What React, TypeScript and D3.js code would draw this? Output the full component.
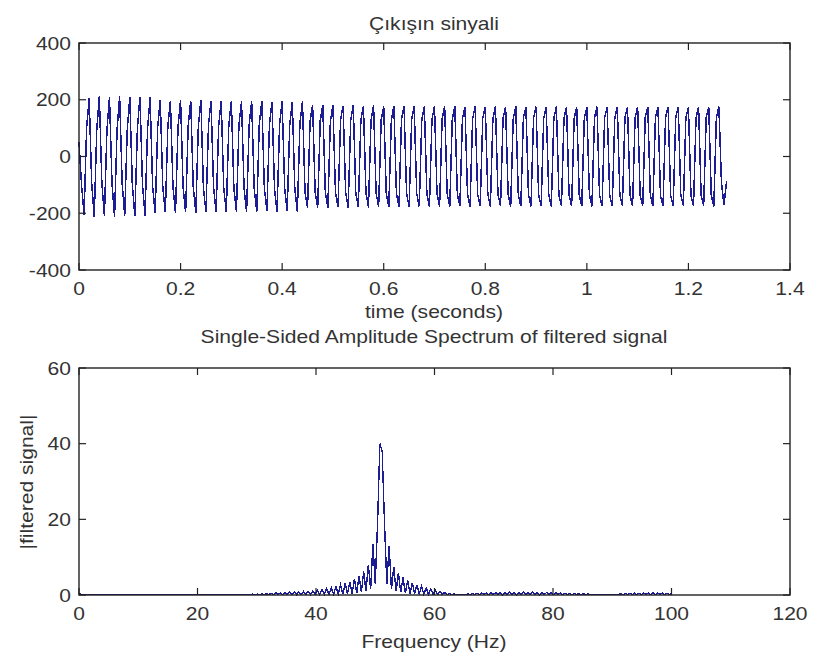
import React from "react";
import * as d3 from "d3";

// ---- data ----
const SAMPLE_RATE = 200; // Hz
const timeSignal: number[] = [
  50,
  -100, -205, 100, 205,
  -95, -212, 95, 212,
  -92, -210, 92, 210,
  -96, -213, 96, 213,
  -94, -209, 94, 209,
  -98, -211, 98, 211,
  -97, -208, 97, 208,
  -105, -200, 105, 200,
  -108, -197, 108, 197,
  -106, -199, 106, 199,
  -110, -196, 110, 196,
  -108, -198, 108, 198,
  -112, -195, 112, 195,
  -109, -197, 109, 197,
  -111, -196, 111, 196,
  -113, -194, 113, 194,
  -110, -197, 110, 197,
  -114, -195, 114, 195,
  -112, -193, 112, 193,
  -115, -195, 115, 195,
  -113, -192, 113, 192,
  -116, -194, 116, 194,
  -124, -182, 124, 182,
  -126, -180, 126, 180,
  -125, -181, 125, 181,
  -127, -179, 127, 179,
  -126, -180, 126, 180,
  -128, -178, 128, 178,
  -127, -180, 127, 180,
  -129, -177, 129, 177,
  -128, -179, 128, 179,
  -130, -177, 130, 177,
  -129, -178, 129, 178,
  -131, -176, 131, 176,
  -130, -178, 130, 178,
  -132, -176, 132, 176,
  -131, -177, 131, 177,
  -133, -175, 133, 175,
  -132, -177, 132, 177,
  -134, -175, 134, 175,
  -133, -176, 133, 176,
  -134, -175, 134, 175,
  -133, -177, 133, 177,
  -135, -175, 135, 175,
  -134, -176, 134, 176,
  -135, -174, 135, 174,
  -134, -176, 134, 176,
  -136, -174, 136, 174,
  -135, -175, 135, 175,
  -136, -174, 136, 174,
  -135, -176, 135, 176,
  -137, -174, 137, 174,
  -136, -175, 136, 175,
  -137, -173, 137, 173,
  -136, -175, 136, 175,
  -138, -173, 138, 173,
  -137, -175, 137, 175,
  -138, -174, 138, 174,
  -137, -175, 137, 175,
  -138, -173, 138, 173,
  -137, -175, 137, 175,
  -138, -174, 138, 174,
  -137, -176, 137, 176,
  -90, -172, -88,
];

const FREQ_MAX = 100; // Hz (Fs/2)
const spectrum: number[] = [
  0.4, 0.2, 0.1, 0.2, 0.1, 0.2, 0.1, 0.2, 0.1, 0.2,
  0.1, 0.2, 0.1, 0.2, 0.1, 0.2, 0.1, 0.2, 0.1, 0.2,
  0.1, 0.2, 0.1, 0.2, 0.1, 0.2, 0.1, 0.2, 0.1, 0.2,
  0.1, 0.2, 0.1, 0.2, 0.1, 0.2, 0.1, 0.2, 0.1, 0.2,
  0.1, 0.2, 0.1, 0.2, 0.1, 0.2, 0.1, 0.2, 0.1, 0.2,
  0.1, 0.2, 0.1, 0.2, 0.1, 0.2, 0.1, 0.2, 0.1, 0.2,
  0.1, 0.2, 0.1, 0.2, 0.1, 0.2, 0.1, 0.2, 0.1, 0.2,
  0.1, 0.2, 0.1, 0.2, 0.1, 0.25, 0.1, 0.25, 0.1, 0.3,
  0.1, 0.3, 0.1, 0.4, 0.1, 0.6, 0.1, 0.6, 0.1, 0.7,
  0.1, 0.7, 0.1, 0.8, 0.1, 0.8, 0.1, 0.9, 0.1, 1.0,
  0.1, 1.1, 0.15, 1.3, 0.15, 1.5, 0.2, 1.7, 0.2, 1.9,
  0.2, 2.2, 0.25, 2.6, 0.25, 3.0, 0.3, 3.5, 0.4, 4.2,
  0.5, 5.0, 0.7, 6.2, 1.0, 8.0, 1.5, 13.5, 3.0, 19,
  40, 38, 19, 3.0, 13, 1.5, 7.5, 1.0, 5.8, 0.7,
  4.6, 0.5, 3.8, 0.4, 3.2, 0.3, 2.7, 0.3, 2.3, 0.2,
  1.9, 0.2, 1.6, 0.15, 1.3, 0.15, 1.0, 0.1, 0.7, 0.1,
  0.4, 0.1, 0.25, 0.1, 0.2, 0.1, 0.2, 0.1, 0.25, 0.1,
  0.4, 0.1, 0.5, 0.1, 0.55, 0.1, 0.6, 0.1, 0.6, 0.1,
  0.65, 0.1, 0.65, 0.1, 0.7, 0.1, 0.7, 0.1, 0.7, 0.1,
  0.7, 0.1, 0.7, 0.1, 0.7, 0.1, 0.7, 0.1, 0.7, 0.1,
  0.7, 0.1, 0.65, 0.1, 0.6, 0.1, 0.6, 0.1, 0.55, 0.1,
  0.5, 0.1, 0.45, 0.1, 0.4, 0.1, 0.35, 0.1, 0.3, 0.1,
  0.25, 0.1, 0.2, 0.1, 0.15, 0.1, 0.15, 0.1, 0.15, 0.1,
  0.15, 0.1, 0.2, 0.1, 0.3, 0.1, 0.4, 0.1, 0.45, 0.1,
  0.5, 0.1, 0.5, 0.1, 0.55, 0.1, 0.55, 0.1, 0.55, 0.1,
  0.55, 0.1, 0.5, 0.1, 0.5, 0.1, 0.5,
];

const timeTicks = [0, 0.2, 0.4, 0.6, 0.8, 1, 1.2, 1.4];
const ampTicks = [-400, -200, 0, 200, 400];
const freqTicks = [0, 20, 40, 60, 80, 100, 120];
const magTicks = [0, 20, 40, 60];

const TITLE_TOP = "Çıkışın sinyali";
const XLABEL_TOP = "time (seconds)";
const TITLE_BOT = "Single-Sided Amplitude Spectrum of filtered signal";
const XLABEL_BOT = "Frequency (Hz)";
const YLABEL_BOT = "|filtered signal|";

// ---- layout ----
const W = 814;
const H = 659;
const LEFT = 79;
const RIGHT = 790;
const TOP1 = 43;
const BOT1 = 270;
const TOP2 = 368;
const BOT2 = 595;
const TICK = 7;
const FONT = "'Liberation Sans', Arial, Helvetica, sans-serif";
const FS = 18;
const SX = 1.17;
const LINE_COLOR = "#1c1c94";
const TEXT_COLOR = "#333333";

function Label(props: {
  x: number;
  y: number;
  anchor?: string;
  rotate?: boolean;
  children: React.ReactNode;
}) {
  const { x, y, anchor = "middle", rotate = false, children } = props;
  return (
    <text
      transform={`translate(${x},${y})${rotate ? " rotate(-90)" : ""} scale(${SX},1)`}
      textAnchor={anchor}
      fontFamily={FONT}
      fontSize={FS}
      fill={TEXT_COLOR}
    >
      {children}
    </text>
  );
}

function Axes(props: {
  x: d3.ScaleLinear<number, number>;
  y: d3.ScaleLinear<number, number>;
  xTicks: number[];
  yTicks: number[];
  top: number;
  bottom: number;
}) {
  const { x, y, xTicks, yTicks, top, bottom } = props;
  return (
    <g>
      {xTicks.map((t) => (
        <g key={"x" + t}>
          <line x1={x(t)} x2={x(t)} y1={bottom} y2={bottom - TICK} stroke="#222" strokeWidth={1.2} />
          <line x1={x(t)} x2={x(t)} y1={top} y2={top + TICK} stroke="#222" strokeWidth={1.2} />
          <Label x={x(t)} y={bottom + 25}>{String(t)}</Label>
        </g>
      ))}
      {yTicks.map((t) => (
        <g key={"y" + t}>
          <line x1={LEFT} x2={LEFT + TICK} y1={y(t)} y2={y(t)} stroke="#222" strokeWidth={1.2} />
          <line x1={RIGHT} x2={RIGHT - TICK} y1={y(t)} y2={y(t)} stroke="#222" strokeWidth={1.2} />
          <Label x={71} y={y(t) + 6.5} anchor="end">{String(t)}</Label>
        </g>
      ))}
      <rect x={LEFT} y={top} width={RIGHT - LEFT} height={bottom - top} fill="none" stroke="#222" strokeWidth={1.4} />
    </g>
  );
}

export default function App() {
  const xTime = d3.scaleLinear().domain([0, 1.4]).range([LEFT, RIGHT]);
  const yAmp = d3.scaleLinear().domain([-400, 400]).range([BOT1, TOP1]);
  const xFreq = d3.scaleLinear().domain([0, 120]).range([LEFT, RIGHT]);
  const yMag = d3.scaleLinear().domain([0, 60]).range([BOT2, TOP2]);

  const timeLine = d3
    .line<number>()
    .x((_, i) => xTime(i / SAMPLE_RATE))
    .y((v) => yAmp(v));
  const nBins = spectrum.length - 1;
  const specLine = d3
    .line<number>()
    .x((_, i) => xFreq((i / nBins) * FREQ_MAX))
    .y((v) => yMag(v));

  return (
    <svg
      width={W}
      height={H}
      viewBox={`0 0 ${W} ${H}`}
      style={{ position: "absolute", left: 0, top: 0, background: "#fff", display: "block" }}
    >
      <rect x={0} y={0} width={W} height={H} fill="#fff" />
      {/* top plot */}
      <path
        d={timeLine(timeSignal) || ""}
        fill="none"
        stroke={LINE_COLOR}
        strokeWidth={1.5}
        shapeRendering="crispEdges"
      />
      <Axes x={xTime} y={yAmp} xTicks={timeTicks} yTicks={ampTicks} top={TOP1} bottom={BOT1} />
      <Label x={434} y={30}>{TITLE_TOP}</Label>
      <Label x={434} y={318}>{XLABEL_TOP}</Label>

      {/* bottom plot */}
      <path
        d={specLine(spectrum) || ""}
        fill="none"
        stroke={LINE_COLOR}
        strokeWidth={1.4}
        shapeRendering="crispEdges"
      />
      <Axes x={xFreq} y={yMag} xTicks={freqTicks} yTicks={magTicks} top={TOP2} bottom={BOT2} />
      <Label x={434} y={343}>{TITLE_BOT}</Label>
      <Label x={434} y={648}>{XLABEL_BOT}</Label>
      <Label x={33} y={482} rotate>{YLABEL_BOT}</Label>
    </svg>
  );
}
